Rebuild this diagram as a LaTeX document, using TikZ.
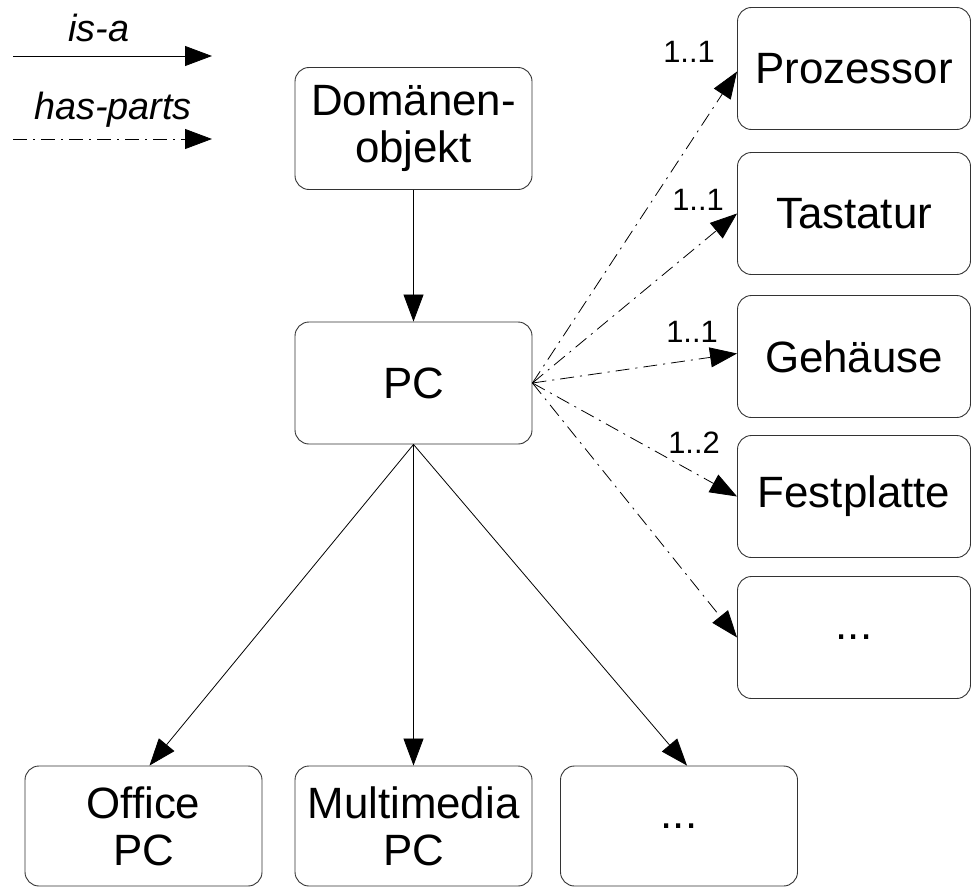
\documentclass[tikz,border=0pt]{standalone}
\usepackage{fontspec}
\setmainfont{Liberation Sans}
\usetikzlibrary{arrows.meta}
\begin{document}
\begin{tikzpicture}[x=1bp,y=-1bp,
  box/.style={draw=black!80,line width=0.9bp,rounded corners=14bp,minimum width=237bp,minimum height=122bp,inner sep=0pt,align=center,font=\fontsize{44}{47}\selectfont},
  rbox/.style={box,minimum width=233bp},
  isa/.style={line width=0.8bp,-{Triangle[length=27bp,width=20bp]}},
  hasp/.style={line width=0.8bp,dash pattern=on 14bp off 6bp on 2bp off 6bp,-{Triangle[length=27bp,width=20bp]}},
  card/.style={font=\fontsize{31}{33}\selectfont,inner sep=0pt},
  leg/.style={font=\itshape\fontsize{38}{40}\selectfont,inner sep=0pt}]
\useasboundingbox (0,0) rectangle (971,887);
% legend
\node[leg] (tisa) at (99,28) {is-a};
\coordinate (isa1) at (13,56);
\coordinate (isa2) at (212,56);
\draw[isa] (isa1) -- (isa2);
\node[leg] (thas) at (113,110) {has-parts};
\coordinate (has1) at (13,139);
\coordinate (has2) at (212,139);
\draw[hasp] (has1) -- (has2);
% main boxes
\node[box] (dom) at (413.5,128.5) {Domänen-\\objekt};
\node[box] (pc) at (413.5,383) {PC};
\node[rbox] (proz) at (854,68.5) {Prozessor};
\node[rbox] (tast) at (854,213.5) {Tastatur};
\node[rbox] (geh) at (854,356.5) {Gehäuse};
\node[rbox] (fest) at (854,496.5) {Festplatte};
\node[rbox] (rdots) at (854,637.5) {...};
\node[box,minimum height=120bp] (office) at (143.5,826) {Office\\PC};
\node[box,minimum height=120bp] (multi) at (413.5,826) {Multimedia\\PC};
\node[box,minimum height=120bp] (bdots) at (679,826) {...};
% is-a
\draw[isa] (dom) -- (pc);
\draw[isa] (pc.south) -- ([xshift=6bp]office.north);
\draw[isa] (pc.south) -- (multi.north);
\draw[isa] (pc.south) -- ([xshift=8bp]bdots.north);
% has-parts
\draw[hasp] (pc.east) -- ([yshift=-3bp]proz.west);
\draw[hasp] (pc.east) -- (tast.west);
\draw[hasp] (pc.east) -- ([yshift=3bp]geh.west);
\draw[hasp] (pc.east) -- (fest.west);
\draw[hasp] (pc.east) -- (rdots.west);
% cardinalities
\node[card] (c1) at (689,52) {1..1};
\node[card] (c2) at (698,200) {1..1};
\node[card] (c3) at (692,332) {1..1};
\node[card] (c4) at (694,443) {1..2};
\end{tikzpicture}
\end{document}
